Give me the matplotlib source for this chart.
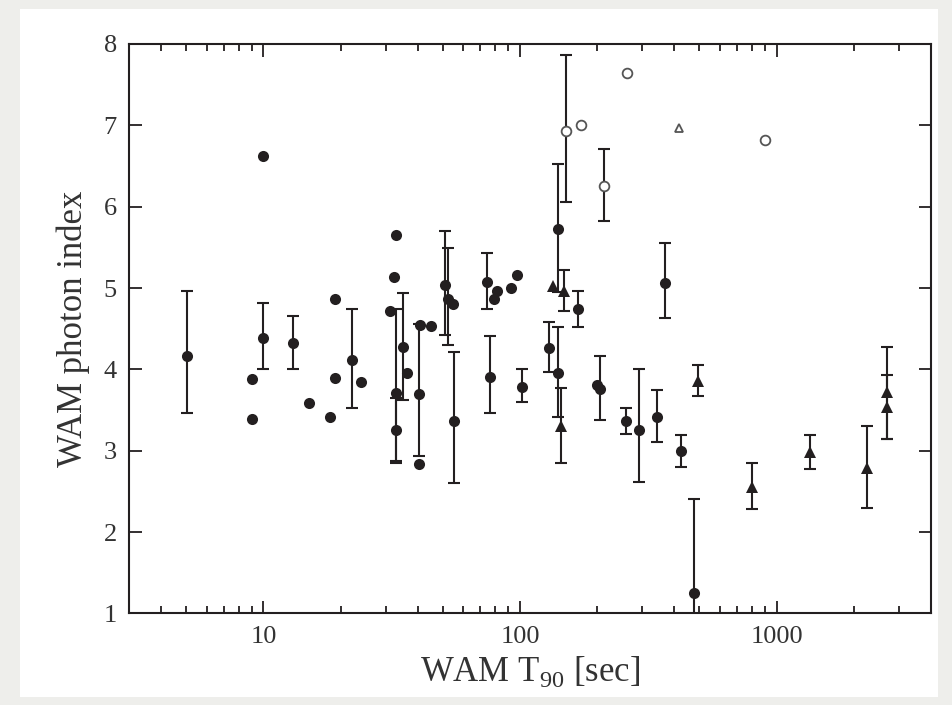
import numpy as np
import matplotlib
matplotlib.use("Agg")
import matplotlib.pyplot as plt
from matplotlib.ticker import FixedLocator, FixedFormatter, LogLocator, NullFormatter
from matplotlib.patches import Rectangle

plt.rcParams['font.family'] = ['Liberation Serif', 'DejaVu Serif']
plt.rcParams['mathtext.fontset'] = 'custom'
plt.rcParams['mathtext.rm'] = 'Liberation Serif'

# filled circles: T90 [s], photon index, error-bar low / high (nan = no bar)
circ_t90 = [5.05, 9.0, 9.0, 10.0, 10.0, 13.0, 15.1, 18.1, 19.0, 19.0, 22.1, 24.1,
            31.0, 32.4, 33.0, 33.0, 33.0, 35.0, 36.2, 40.3, 40.3, 40.8, 45.0,
            51.0, 52.3, 54.7, 55.2, 74.5, 76.4, 79.0, 81.0, 92.0, 97.5, 101.8,
            129.5, 140.0, 140.0, 169.0, 199.0, 205.0, 259.0, 292.0, 342.0, 368.0,
            424.0, 475.0]
circ_idx = [4.17, 3.88, 3.39, 6.62, 4.39, 4.32, 3.59, 3.42, 4.87, 3.90, 4.12, 3.85,
            4.72, 5.14, 5.65, 3.71, 3.25, 4.27, 3.96, 3.70, 2.84, 4.55, 4.53,
            5.04, 4.86, 4.81, 3.36, 5.07, 3.91, 4.86, 4.96, 5.00, 5.16, 3.79,
            4.26, 5.73, 3.95, 4.74, 3.81, 3.76, 3.37, 3.25, 3.42, 5.06,
            3.00, 1.25]
nan = np.nan
circ_lo = [3.47, nan, nan, nan, 4.00, 4.00, nan, nan, nan, nan, 3.52, nan,
           nan, nan, nan, 2.87, 2.85, 3.63, nan, 2.94, nan, nan, nan,
           4.42, 4.30, nan, 2.60, 4.74, 3.47, nan, nan, nan, nan, 3.60,
           3.97, 4.95, 3.41, 4.52, nan, 3.38, 3.21, 2.62, 3.11, 4.63,
           2.80, 0.09]
circ_hi = [4.96, nan, nan, nan, 4.82, 4.66, nan, nan, nan, nan, 4.74, nan,
           nan, nan, nan, 4.74, 3.65, 4.94, nan, 4.56, nan, nan, nan,
           5.70, 5.49, nan, 4.22, 5.43, 4.41, nan, nan, nan, nan, 4.00,
           4.58, 6.52, 4.52, 4.96, nan, 4.16, 3.52, 4.00, 3.75, 5.55,
           3.19, 2.41]

# filled triangles
tri_t90 = [134.0, 148.0, 144.5, 492.0, 802.0, 1352.0, 2259.0, 2690.0, 2690.0]
tri_idx = [5.02, 4.96, 3.30, 3.86, 2.56, 2.98, 2.79, 3.72, 3.54]
tri_lo = [nan, 4.72, 2.85, 3.67, 2.28, 2.77, 2.30, 3.15, 3.14]
tri_hi = [nan, 5.22, 3.77, 4.05, 2.85, 3.19, 3.30, 4.27, 3.93]

# open circles
oc_t90 = [151.5, 173.0, 261.0, 212.0, 902.0]
oc_idx = [6.93, 7.01, 7.64, 6.25, 6.82]
oc_lo = [6.06, nan, nan, 5.82, nan]
oc_hi = [7.87, nan, nan, 6.71, nan]

# open triangle
ot_t90 = [415.0]
ot_idx = [6.97]

ink = '#231f20'


def draw_err(ax, x, y, lo, hi):
    x = np.array(x); y = np.array(y); lo = np.array(lo); hi = np.array(hi)
    m = ~np.isnan(lo)
    ax.errorbar(x[m], y[m], yerr=[y[m] - lo[m], hi[m] - y[m]], fmt='none',
                ecolor=ink, elinewidth=1.5, capsize=4.5, capthick=1.5, zorder=2)


fig = plt.figure(figsize=(9.52, 7.05), dpi=100)
fig.patch.set_facecolor('#eeeeeb')
bg = Rectangle((20 / 952, 8 / 705), 918 / 952, 688 / 705,
               transform=fig.transFigure, facecolor='white',
               edgecolor='none', zorder=-10)
fig.add_artist(bg)
ax = fig.add_axes([0.1358, 0.1298, 0.8422, 0.8078])
ax.set_zorder(5)

draw_err(ax, circ_t90, circ_idx, circ_lo, circ_hi)
draw_err(ax, tri_t90, tri_idx, tri_lo, tri_hi)
draw_err(ax, oc_t90, oc_idx, oc_lo, oc_hi)

ax.plot(circ_t90, circ_idx, 'o', color=ink, ms=8, mew=0, zorder=3)
ax.plot(tri_t90, tri_idx, '^', color=ink, ms=8, mew=0, zorder=3)
ax.plot(oc_t90, oc_idx, 'o', mfc='white', mec='#555555', ms=7, mew=1.3, zorder=4)
ax.plot(ot_t90, ot_idx, '^', mfc='white', mec='#555555', ms=6, mew=1.3, zorder=4)

ax.set_xscale('log')
ax.set_xlim(3, 4000)
ax.set_ylim(1, 8)

ax.xaxis.set_major_locator(FixedLocator([10, 100, 1000]))
ax.xaxis.set_major_formatter(FixedFormatter(['10', '100', '1000']))
ax.xaxis.set_minor_locator(LogLocator(base=10, subs=np.arange(2, 10), numticks=20))
ax.xaxis.set_minor_formatter(NullFormatter())
ax.set_yticks(range(1, 9))

ax.tick_params(which='both', direction='in', top=True, right=True, colors=ink,
               width=1.3, labelsize=19, labelcolor='#333333')
ax.tick_params(which='major', length=9, pad=9)
ax.tick_params(which='minor', length=5)
for s in ax.spines.values():
    s.set_linewidth(1.5)
    s.set_color(ink)

ax.set_xlabel('WAM T$_{90}$ [sec]', fontsize=25, color='#333333', labelpad=4)
ax.set_ylabel('WAM photon index', fontsize=25, color='#333333', labelpad=10)

fig.savefig('out.png', dpi=100, facecolor=fig.get_facecolor())
